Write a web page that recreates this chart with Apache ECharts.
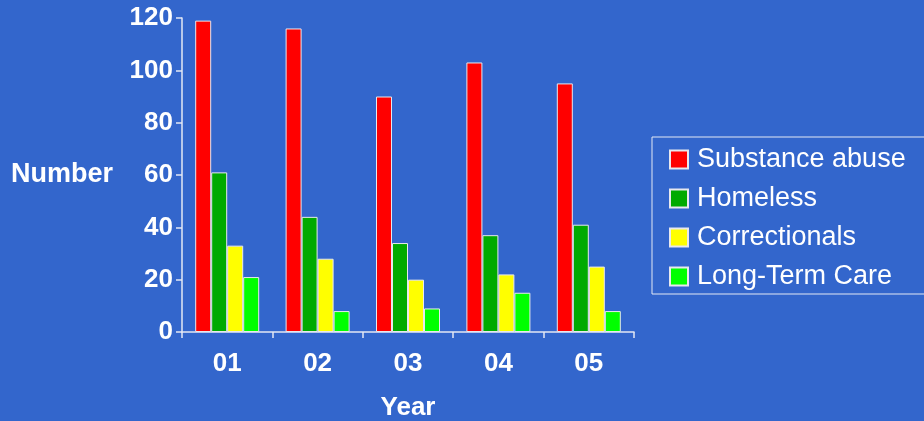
<!DOCTYPE html>
<html>
<head>
<meta charset="utf-8">
<script src="https://cdn.jsdelivr.net/npm/echarts@6/dist/echarts.min.js"></script>
<style>
html,body{margin:0;padding:0;background:#3366CC;}
#chart{width:924px;height:421px;}
</style>
</head>
<body>
<div id="chart"></div>
<script>
const years = ['01', '02', '03', '04', '05'];
const substanceAbuse = [119, 116, 90, 103, 95];
const homeless = [61, 44, 34, 37, 41];
const correctionals = [33, 28, 20, 22, 25];
const longTermCare = [21, 8, 9, 15, 8];
const seriesNames = ['Substance abuse', 'Homeless', 'Correctionals', 'Long-Term Care'];
const seriesColors = ['#FF0000', '#00AA00', '#FFFF00', '#00FF00'];
const seriesValues = [substanceAbuse, homeless, correctionals, longTermCare];

const FONT = '"Liberation Sans", Arial, sans-serif';
const axisColor = '#E4E8F4';

const chart = echarts.init(document.getElementById('chart'));
chart.setOption({
  backgroundColor: '#3366CC',
  animation: false,
  grid: { left: 182, right: 290, top: 18, bottom: 89, containLabel: false, outerBoundsMode: 'none' },
  legend: {
    orient: 'vertical',
    left: 652,
    top: 137,
    padding: [9, 34, 4, 17],
    borderColor: axisColor,
    borderWidth: 1,
    itemWidth: 18,
    itemHeight: 18,
    itemGap: 12,
    icon: 'rect',
    textStyle: { color: '#FFFFFF', fontFamily: FONT, fontSize: 27, lineHeight: 26, padding: [0, 0, 0, 4] },
    data: seriesNames
  },
  xAxis: {
    type: 'category',
    data: years,
    name: 'Year',
    nameLocation: 'middle',
    nameGap: 63,
    nameTextStyle: { color: '#FFFFFF', fontFamily: FONT, fontSize: 26, fontWeight: 'bold' },
    axisLine: { lineStyle: { color: axisColor, width: 1.5 } },
    axisTick: { show: true, length: 6, lineStyle: { color: axisColor, width: 1.5 } },
    axisLabel: { color: '#FFFFFF', fontFamily: FONT, fontSize: 26, fontWeight: 'bold', margin: 19 }
  },
  yAxis: {
    type: 'value',
    min: 0,
    max: 120,
    interval: 20,
    name: 'Number',
    nameLocation: 'middle',
    nameRotate: 0,
    nameGap: 69,
    nameTextStyle: { color: '#FFFFFF', fontFamily: FONT, fontSize: 27, fontWeight: 'bold' },
    axisLine: { show: true, lineStyle: { color: axisColor, width: 1.5 } },
    axisTick: { show: true, length: 6, lineStyle: { color: axisColor, width: 1.5 } },
    splitLine: { show: false },
    axisLabel: { color: '#FFFFFF', fontFamily: FONT, fontSize: 26, fontWeight: 'bold', margin: 9 }
  },
  series: seriesNames.map((name, i) => ({
    name: name,
    type: 'bar',
    data: seriesValues[i],
    barWidth: 16,
    barGap: '0%',
    itemStyle: { color: seriesColors[i], borderColor: '#E8E8EE', borderWidth: 1 }
  }))
});
</script>
</body>
</html>
